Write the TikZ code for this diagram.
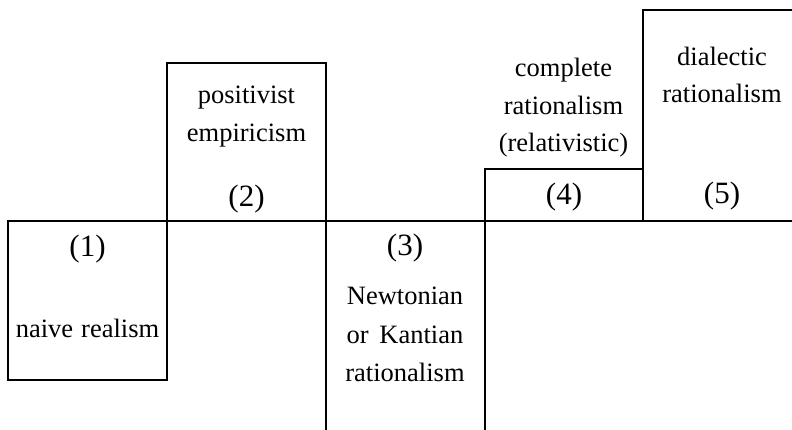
\documentclass[tikz,border=0pt]{standalone}
\usepackage{fontspec}
\setmainfont{Liberation Serif}
\begin{document}
\begin{tikzpicture}[x=1pt,y=-1pt,
  frame/.style={line width=1.3pt,line cap=rect},
  lbl/.style={anchor=base,inner sep=0pt,font=\fontsize{26.5}{38.5}\selectfont,align=center},
  num/.style={anchor=base,inner sep=0pt,font=\fontsize{31}{38.5}\selectfont}]
\useasboundingbox (0,0) rectangle (792,430);
% frame lines
\draw[frame] (8,221) -- (792,221);
\draw[frame] (8,221) rectangle (167,380);
\draw[frame] (167,221) -- (167,63) -- (326,63) -- (326,430);
\draw[frame] (485,430) -- (485,169) -- (643,169);
\draw[frame] (643,221) -- (643,10) -- (792,10);
% texts
\node[num] (n1) at (87.5,257) {(1)};
\node[lbl] (t1) at (87.5,337) {naive\hspace{0.3em}realism};
\node[lbl] (t2a) at (246.5,103.5) {positivist};
\node[lbl] (t2b) at (246.5,141.8) {empiricism};
\node[num] (n2) at (246.5,206.5) {(2)};
\node[num] (n3) at (405,255) {(3)};
\node[lbl] (t3a) at (405,304.3) {Newtonian};
\node[lbl] (t3b) at (405,343.2) {or\hspace{0.4em}Kantian};
\node[lbl] (t3c) at (405,381.8) {rationalism};
\node[lbl] (t4a) at (563.5,76.7) {complete};
\node[lbl] (t4b) at (563.5,115) {rationalism};
\node[lbl] (t4c) at (563.5,151.7) {(relativistic)};
\node[num] (n4) at (564,205) {(4)};
\node[lbl] (t5a) at (722,65.7) {dialectic};
\node[lbl] (t5b) at (722,102.3) {rationalism};
\node[num] (n5) at (722,204) {(5)};
\end{tikzpicture}
\end{document}
